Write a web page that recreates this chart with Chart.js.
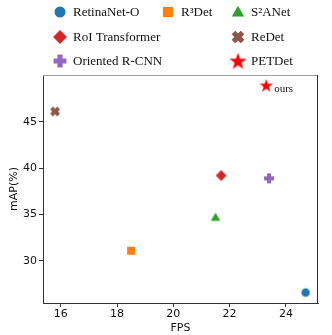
<!DOCTYPE html>
<html lang="en">
<head>
  <meta charset="utf-8" />
  <title>FPS vs mAP</title>
  <style>
    * { margin: 0; padding: 0; box-sizing: border-box; }
    body { background: #ffffff; }
    .wrap { position: relative; width: 332px; height: 335px; }
  </style>
</head>
<body>
  <div class="wrap">
    <canvas id="chart" width="332" height="335"></canvas>
  </div>

  <script src="https://cdn.jsdelivr.net/npm/chart.js@4.4.1/dist/chart.umd.min.js"></script>
  <script>
    // data
    const methods = ["RetinaNet-O", "R\u00b3Det", "S\u00b2ANet", "RoI Transformer", "ReDet", "Oriented R-CNN", "PETDet"];
    const fps = [24.7, 18.5, 21.5, 21.7, 15.8, 23.4, 23.3];
    const mAP = [26.6, 31.1, 34.7, 39.2, 46.1, 38.9, 48.9];
    const xTicks = [16, 18, 20, 22, 24];
    const yTicks = [30, 35, 40, 45];

    const colors = ["#1f77b4", "#ff7f0e", "#2ca02c", "#d62728", "#8c564b", "#9467bd", "#ff0000"];
    const shapes = ["circle", "square", "triangle", "diamond", "x", "plus", "star"];

    // little canvases used as point styles (k = scale factor)
    function makeMarker(shape, color, k) {
      const s = Math.ceil((shape === "star" ? 15 : 11) * k) + 1;
      const c = document.createElement("canvas");
      c.width = s; c.height = s;
      const g = c.getContext("2d");
      const m = s / 2;
      g.fillStyle = color;
      g.translate(m, m);
      g.scale(k, k);
      g.beginPath();
      if (shape === "circle") {
        g.arc(0, 0, 4.3, 0, Math.PI * 2);
      } else if (shape === "square") {
        g.rect(-4, -4, 8, 8);
      } else if (shape === "triangle") {
        g.moveTo(0, -4.8); g.lineTo(4.8, 3.6); g.lineTo(-4.8, 3.6);
      } else if (shape === "diamond") {
        g.moveTo(0, -5.4); g.lineTo(5.4, 0); g.lineTo(0, 5.4); g.lineTo(-5.4, 0);
      } else if (shape === "plus" || shape === "x") {
        if (shape === "x") g.rotate(Math.PI / 4);
        const a = 5, t = 2;
        g.moveTo(-t, -a); g.lineTo(t, -a); g.lineTo(t, -t); g.lineTo(a, -t); g.lineTo(a, t); g.lineTo(t, t);
        g.lineTo(t, a); g.lineTo(-t, a); g.lineTo(-t, t); g.lineTo(-a, t); g.lineTo(-a, -t); g.lineTo(-t, -t);
      } else if (shape === "star") {
        for (let i = 0; i < 10; i++) {
          const r = i % 2 === 0 ? 7 : 2.8;
          const ang = -Math.PI / 2 + i * Math.PI / 5;
          const px = r * Math.cos(ang), py = 0.5 + r * Math.sin(ang);
          if (i === 0) g.moveTo(px, py); else g.lineTo(px, py);
        }
      }
      g.closePath();
      g.fill();
      return c;
    }
    const markers = shapes.map((s, i) => makeMarker(s, colors[i], 1));
    const legendMarkers = shapes.map((s, i) => makeMarker(s, colors[i], 1.28));

    // legend slots: [x of marker, y]
    const legendPos = [[60, 12], [168, 12], [238, 12], [60, 37], [238, 37], [60, 61], [238, 61]];

    const extras = {
      id: "extras",
      afterDraw(chart) {
        const ctx = chart.ctx;
        const a = chart.chartArea;
        ctx.save();
        // frame
        ctx.lineWidth = 1;
        ctx.strokeStyle = "#9e9e9e";
        ctx.beginPath();
        ctx.moveTo(a.left, a.top + 0.5); ctx.lineTo(a.right, a.top + 0.5);
        ctx.stroke();
        ctx.strokeStyle = "#333333";
        ctx.beginPath();
        ctx.moveTo(a.right - 0.5, a.top); ctx.lineTo(a.right - 0.5, a.bottom);
        ctx.stroke();
        // legend
        ctx.font = "13px 'Liberation Serif'";
        ctx.fillStyle = "#111111";
        ctx.textBaseline = "middle";
        methods.forEach((name, i) => {
          const [lx, ly] = legendPos[i];
          const mk = legendMarkers[i];
          ctx.drawImage(mk, lx - mk.width / 2, ly - mk.height / 2);
          ctx.fillText(name, lx + 13, ly + 1);
        });
        // "ours" label next to the star
        const xs = chart.scales.x, ys = chart.scales.y;
        ctx.font = "11px 'Liberation Serif'";
        ctx.fillText("ours", xs.getPixelForValue(fps[6]) + 8, ys.getPixelForValue(mAP[6]) + 4);
        ctx.restore();
      }
    };

    new Chart(document.getElementById("chart"), {
      type: "scatter",
      data: {
        datasets: methods.map((name, i) => ({
          label: name,
          data: [{ x: fps[i], y: mAP[i] }],
          pointStyle: markers[i],
          backgroundColor: colors[i]
        }))
      },
      options: {
        responsive: false,
        animation: false,
        layout: { padding: { top: 75, right: 14, left: 0, bottom: 0 } },
        plugins: { legend: { display: false }, tooltip: { enabled: false } },
        scales: {
          x: {
            type: "linear",
            min: 15.37,
            max: 25.14,
            afterBuildTicks: (s) => { s.ticks = xTicks.map(v => ({ value: v })); },
            afterFit: (s) => { s.height = 32; },
            grid: { display: true, drawOnChartArea: false, tickLength: 4, tickColor: "#333" },
            border: { color: "#333", width: 1 },
            ticks: { color: "#111", padding: 1, font: { family: "DejaVu Sans", size: 11 } },
            title: { display: true, text: "FPS", color: "#111", padding: 0, font: { family: "DejaVu Sans", size: 11 } }
          },
          y: {
            type: "linear",
            min: 25.47,
            max: 50.03,
            afterBuildTicks: (s) => { s.ticks = yTicks.map(v => ({ value: v })); },
            afterFit: (s) => { s.width = 43; },
            grid: { display: true, drawOnChartArea: false, tickLength: 4, tickColor: "#333" },
            border: { color: "#333", width: 1 },
            ticks: { color: "#111", padding: 2, font: { family: "DejaVu Sans", size: 11 } },
            title: { display: true, text: "mAP(%)", color: "#111", padding: { top: 8, bottom: 0 }, font: { family: "DejaVu Sans", size: 11 } }
          }
        }
      },
      plugins: [extras]
    });
  </script>
</body>
</html>
